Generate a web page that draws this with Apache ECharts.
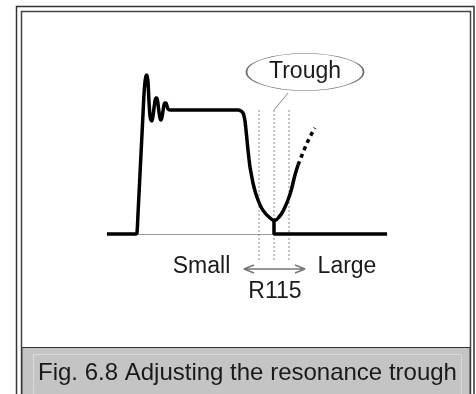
<!DOCTYPE html>
<html>
<head>
<meta charset="utf-8">
<script src="https://cdn.jsdelivr.net/npm/echarts@6/dist/echarts.min.js"></script>
<style>
  html, body { margin: 0; padding: 0; background: #fff; }
  #chart { width: 476px; height: 394px; }
</style>
</head>
<body>
<div id="chart"></div>
<script>
// waveform in arbitrary units: x = time, y = amplitude (0 = baseline)
const waveform = [
  [0, 0], [29, 0], [30, 1], [31, 20], [32, 40], [33, 60], [34, 80], [35, 100],
  [36, 120], [37, 140], [38, 152], [39, 158], [40, 159], [41, 152], [42, 132],
  [43, 118], [44, 114], [45, 113], [46, 118], [47, 126], [48, 133], [49, 136],
  [50, 136], [51, 130], [52, 122], [53, 116], [54, 114], [55, 117], [56, 123],
  [57, 129], [58, 131], [59, 131], [60, 128], [61, 125], [63, 124],
  [131, 124], [134, 123], [136, 121], [137, 118], [138, 113], [139, 104],
  [140, 94], [141, 84], [142, 75], [143, 67], [145, 56], [146, 51], [148, 43],
  [151, 34], [154, 27], [158, 21], [162, 17], [166, 14], [169, 14], [172, 17],
  [175, 21], [178, 27], [181, 34], [184, 43], [186, 51], [188, 59], [191, 69]
]
const extension = [[191, 69], [195, 79], [200, 91], [204, 99], [208, 106]]
const lowerLevel = [[167, 14], [167, 0], [280, 0]]

const guideX = [152, 167, 182]
const guideTop = 124
const guideBottom = -28

const leader = [[167, 124], [181, 141]]
const bubble = [198, 162]
const bubbleText = 'Trough'

const arrowFrom = 137
const arrowTo = 198
const arrowY = -35

const labelNames = ['Small', 'Large', 'R115']
const labelPos = [[94.5, -33], [240, -33], [168, -58]]

const caption = 'Fig. 6.8 Adjusting the resonance trough'

const chart = echarts.init(document.getElementById('chart'))

const thin = { color: '#8a8a8a', width: 1, type: [2, 2] }
const guideSeries = guideX.map(x => ({
  type: 'line',
  data: [[x, guideTop], [x, guideBottom]],
  symbol: 'none',
  lineStyle: thin,
  z: 1,
  silent: true
}))

const arrowData = [
  [arrowFrom, arrowY], [arrowTo, arrowY], null,
  [arrowFrom + 10, arrowY + 4], [arrowFrom, arrowY], [arrowFrom + 10, arrowY - 4], null,
  [arrowTo - 10, arrowY + 4], [arrowTo, arrowY], [arrowTo - 10, arrowY - 4]
]

const fontFamily = '"Liberation Sans", Arial, sans-serif'

chart.setOption({
  animation: false,
  backgroundColor: '#fff',
  grid: { left: 107, right: 89, top: 54, bottom: 100 },
  xAxis: {
    type: 'value', min: 0, max: 280,
    axisLine: { show: true, onZero: true, lineStyle: { color: '#9a9a9a', width: 1 } },
    axisTick: { show: false }, axisLabel: { show: false }, splitLine: { show: false }
  },
  yAxis: {
    type: 'value', min: -60, max: 180,
    axisLine: { show: false }, axisTick: { show: false },
    axisLabel: { show: false }, splitLine: { show: false }
  },
  series: [
    ...guideSeries,
    {
      type: 'line', data: leader, symbol: 'none',
      lineStyle: { color: '#8a8a8a', width: 1 }, silent: true
    },
    {
      type: 'line', data: waveform, symbol: 'none', smooth: 0.2,
      lineStyle: { color: '#000', width: 3.5 }, z: 3
    },
    {
      type: 'line', data: extension, symbol: 'none', smooth: 0.3,
      lineStyle: { color: '#000', width: 3.5, type: [4, 4] }, z: 3
    },
    {
      type: 'line', data: lowerLevel, symbol: 'none',
      lineStyle: { color: '#000', width: 3.5 }, z: 3
    },
    {
      type: 'line', data: arrowData, symbol: 'none', connectNulls: false,
      lineStyle: { color: '#777', width: 1.5 }, silent: true
    },
    {
      type: 'scatter', data: [bubble], symbol: 'circle', symbolSize: [117, 37],
      itemStyle: { color: '#fff', borderColor: '#6a6a6a', borderWidth: 1, opacity: 1 },
      label: {
        show: true, position: 'inside', formatter: bubbleText,
        color: '#1a1a1a', fontSize: 23, fontFamily
      },
      z: 4
    },
    {
      type: 'scatter',
      data: labelNames.map((n, i) => ({ name: n, value: labelPos[i] })),
      symbolSize: 0,
      itemStyle: { opacity: 1 },
      label: {
        show: true, position: 'inside', formatter: '{b}',
        color: '#1a1a1a', fontSize: 23, fontFamily
      }
    }
  ],
  graphic: [
    {
      type: 'rect', silent: true,
      shape: { x: 16.5, y: 6.5, width: 457.5, height: 400 },
      style: { fill: null, stroke: '#333', lineWidth: 1.5 }
    },
    {
      type: 'rect', silent: true,
      shape: { x: 21.5, y: 11.5, width: 449, height: 400 },
      style: { fill: null, stroke: '#444', lineWidth: 1.5 }
    },
    {
      type: 'rect', silent: true,
      shape: { x: 22, y: 347.5, width: 448, height: 60 },
      style: { fill: '#c4c4c4', stroke: '#333', lineWidth: 1 }
    },
    {
      type: 'rect', silent: true,
      shape: { x: 33.5, y: 354.5, width: 428, height: 60 },
      style: { fill: null, stroke: '#dadada', lineWidth: 1 }
    },
    {
      type: 'text', silent: true, x: 38, y: 373,
      style: {
        text: caption, fill: '#1a1a1a', font: '24px ' + fontFamily,
        textAlign: 'left', textVerticalAlign: 'middle'
      }
    }
  ]
})
</script>
</body>
</html>
